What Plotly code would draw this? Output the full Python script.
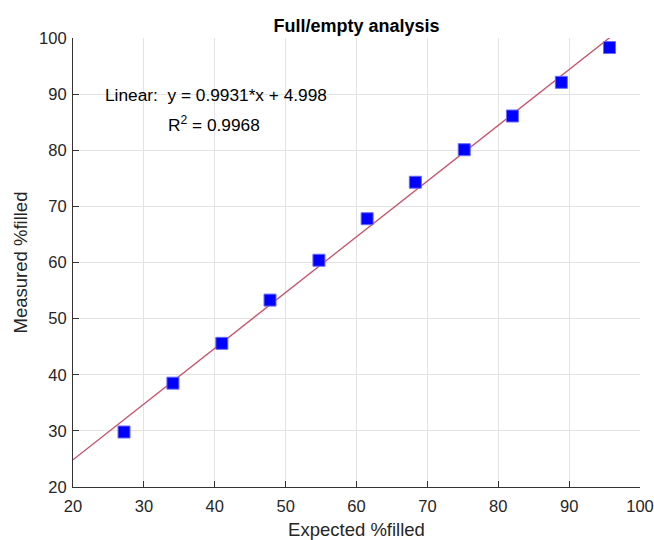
import plotly.graph_objects as go

expected = [27.2, 34.1, 41.0, 47.8, 54.7, 61.5, 68.3, 75.2, 82.0, 88.9, 95.7]
measured = [29.8, 38.5, 45.6, 53.3, 60.4, 67.8, 74.3, 80.1, 86.1, 92.1, 98.3]
slope = 0.9931
intercept = 4.998
r2 = 0.9968
fit_x = [20, 100]
fit_y = [slope * v + intercept for v in fit_x]
ticks = [20, 30, 40, 50, 60, 70, 80, 90, 100]

FONT = "Liberation Sans, Arial"

fig = go.Figure()
fig.add_trace(go.Scatter(x=fit_x, y=fit_y, mode="lines",
                         line=dict(color="#c8506a", width=1.3), showlegend=False, cliponaxis=True))
fig.add_trace(go.Scatter(x=expected, y=measured, mode="markers",
                         marker=dict(symbol="square", size=12, color="#0000ff",
                                     line=dict(color="#6a6aff", width=1)),
                         showlegend=False))

axis_common = dict(range=[20, 100], tickvals=ticks, showgrid=True, gridcolor="#e3e3e3", gridwidth=1,
                   showline=True, linecolor="#333333", linewidth=1.2, ticks="inside", ticklen=6,
                   tickcolor="#333333", zeroline=False, automargin=False,
                   tickfont=dict(family=FONT, size=16.5, color="#262626"),
                   mirror=False)

fig.update_layout(
    width=654, height=540,
    margin=dict(l=73, r=14, t=38, b=53),
    plot_bgcolor="white", paper_bgcolor="white",
    title=dict(text="<b>Full/empty analysis</b>", x=0.5, xanchor="center", y=0.953, yanchor="middle",
               font=dict(family=FONT, size=18, color="#000000"), xref="paper"),
    xaxis=dict(axis_common, ticklabelstandoff=4,
               title=dict(text="Expected %filled", standoff=14,
                          font=dict(family=FONT, size=18.5, color="#262626"))),
    yaxis=dict(axis_common, ticklabelstandoff=2,
               title=dict(text="Measured %filled", standoff=6,
                          font=dict(family=FONT, size=18.5, color="#262626"))),
    annotations=[
        dict(x=24.3, y=89.9, xref="x", yref="y", xanchor="left", yanchor="middle", showarrow=False,
             text=f"Linear:  y = {slope}*x + {intercept}",
             font=dict(family=FONT, size=17.3, color="#000000")),
        dict(x=33.1, y=84.6, xref="x", yref="y", xanchor="left", yanchor="middle", showarrow=False,
             text=f"R<sup>2</sup> = {r2}",
             font=dict(family=FONT, size=17.3, color="#000000")),
    ],
)

fig.write_html("out.html")
